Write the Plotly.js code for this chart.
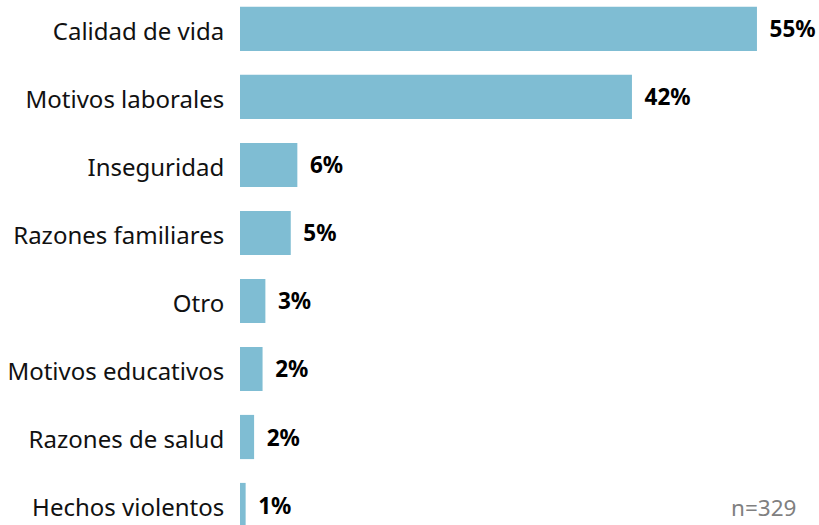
<!DOCTYPE html>
<html>
<head>
<meta charset="utf-8">
<script src="https://cdn.plot.ly/plotly-3.0.1.min.js"></script>
<style>html,body{margin:0;padding:0;background:#fff;}#chart{width:819px;height:525px;}</style>
</head>
<body>
<div id="chart"></div>
<script>
const categories = ["Calidad de vida", "Motivos laborales", "Inseguridad", "Razones familiares", "Otro", "Motivos educativos", "Razones de salud", "Hechos violentos"];
const values = [55, 41.7, 6.1, 5.4, 2.7, 2.4, 1.5, 0.6];
const valueLabels = ["55%", "42%", "6%", "5%", "3%", "2%", "2%", "1%"];
const sampleNote = "n=329";

const NB = "\u00A0\u202F";
const trace = {
  type: "bar",
  orientation: "h",
  y: categories,
  x: values,
  marker: {color: "#7FBDD3"},
  text: valueLabels.map(t => NB + t),
  textposition: "outside",
  cliponaxis: false,
  constraintext: "none",
  textfont: {family: "Noto Sans", size: 22.5, color: "#000", weight: "bold"},
  hoverinfo: "skip"
};

const layout = {
  width: 819, height: 525,
  margin: {l: 240, r: 0, t: 0, b: 0},
  paper_bgcolor: "#fff", plot_bgcolor: "#fff",
  bargap: 0.35,
  showlegend: false,
  font: {family: "Noto Sans", color: "#111"},
  xaxis: {range: [0, 61.6], showgrid: false, zeroline: false, showticklabels: false, showline: false, ticks: ""},
  yaxis: {
    type: "category",
    range: [7.294, -0.426],
    autorange: false,
    showgrid: false, zeroline: false, showline: false,
    ticks: "outside", ticklen: 10, tickcolor: "rgba(0,0,0,0)",
    ticklabelshift: -3,
    tickfont: {family: "Noto Sans", size: 24, color: "#111"}
  },
  annotations: [{
    xref: "paper", yref: "paper", x: 0.963, y: 0.034,
    xanchor: "right", yanchor: "middle",
    text: sampleNote, showarrow: false,
    font: {family: "Noto Sans", size: 22.5, color: "#808080"}
  }]
};

Plotly.newPlot("chart", [trace], layout, {displayModeBar: false, staticPlot: true});
</script>
</body>
</html>
